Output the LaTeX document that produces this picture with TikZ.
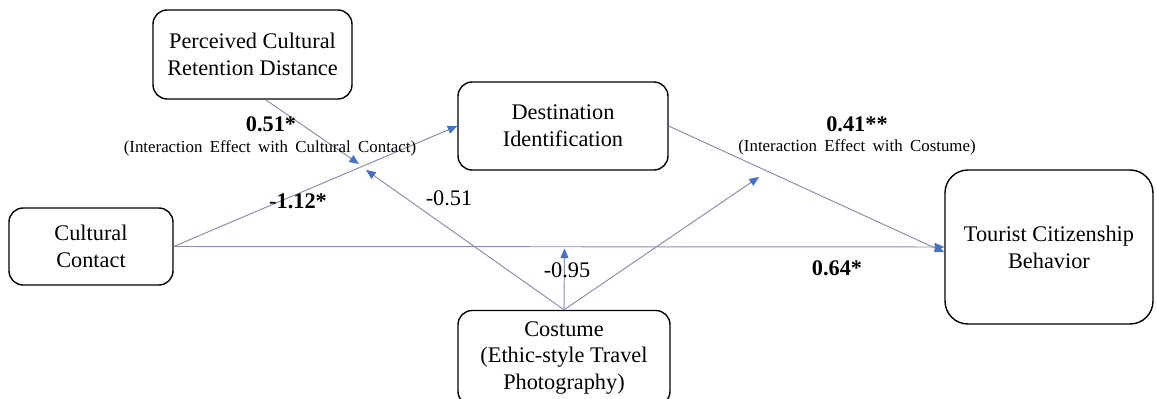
\documentclass[tikz,border=0pt]{standalone}
\usepackage{fontspec}
\setmainfont{Liberation Serif}
\usetikzlibrary{arrows.meta,positioning,calc}
\definecolor{path}{HTML}{8A8CAE}
\definecolor{tip}{HTML}{4472C4}
\newcommand\notefont{\fontsize{9.6}{11}\selectfont\spaceskip=4.2pt\relax}

\tikzset{
  var/.style={draw=black,line width=0.8pt,rounded corners=8pt,align=center,
    font=\fontsize{12.7}{15.3}\selectfont,inner sep=2pt},
  link/.style={draw=path,line width=0.55pt,-{Triangle[length=5.5pt,width=4.6pt,color=tip]}},
  coef/.style={font=\fontsize{12.7}{15}\selectfont\bfseries},
  plain/.style={font=\fontsize{12.7}{15}\selectfont},
  note/.style={font=\notefont}
}

\begin{document}
\begin{tikzpicture}[x=0.02cm,y=-0.02cm]
    \useasboundingbox (0,0) rectangle (1157,399);
    % variables
    \node[var,minimum width=3.98cm,minimum height=1.78cm] (pcrd) at (252.5,54.5) {Perceived Cultural\\Retention Distance};
    \node[var,minimum width=4.2cm,minimum height=1.76cm] (dest) at (563,126) {Destination\\Identification};
    \node[var,minimum width=3.28cm,minimum height=1.54cm] (contact) at (91,246.5) {Cultural\\Contact};
    \node[var,rounded corners=13pt,minimum width=4.16cm,minimum height=3.08cm] (tcb) at (1049,247) {Tourist Citizenship\\Behavior};
    \node[var,minimum width=4.24cm,minimum height=1.9cm] (costume) at (564,358) {Costume\\(Ethic-style Travel\\Photography)};

    % points where the moderators meet the paths
    \coordinate (src) at (266,100);
    \coordinate (hitA) at (359,164);
    \coordinate (hitB) at (366,170);
    \coordinate (hitC) at (564.5,248.5);
    \coordinate (hitD) at (759,177);

    % main paths
    \draw[link] (contact.east) -- (dest.west);
    \draw[link] (contact.east) -- (tcb.west);
    \draw[link] (dest.east) -- ([yshift=-3pt]tcb.west);
    % moderating paths
    \draw[link] (src) -- (hitA);
    \draw[link] (costume.north) -- (hitB);
    \draw[link] (costume.north) -- (hitC);
    \draw[link] (costume.north) -- (hitD);

    % coefficients
    \node[coef] (c051) at (271,124) {0.51*};
    \node[note] (n051) at (270,148) {(Interaction Effect with Cultural Contact)};
    \node[coef] (c112) at (298,201) {-1.12*};
    \node[plain] (c051b) at (449,198) {-0.51};
    \node[coef] (c041) at (857,124) {0.41**};
    \node[note] (n041) at (857,147) {(Interaction Effect with Costume)};
    \node[plain] (c095) at (567,270) {-0.95};
    \node[coef] (c064) at (837,268) {0.64*};
\end{tikzpicture}
\end{document}
